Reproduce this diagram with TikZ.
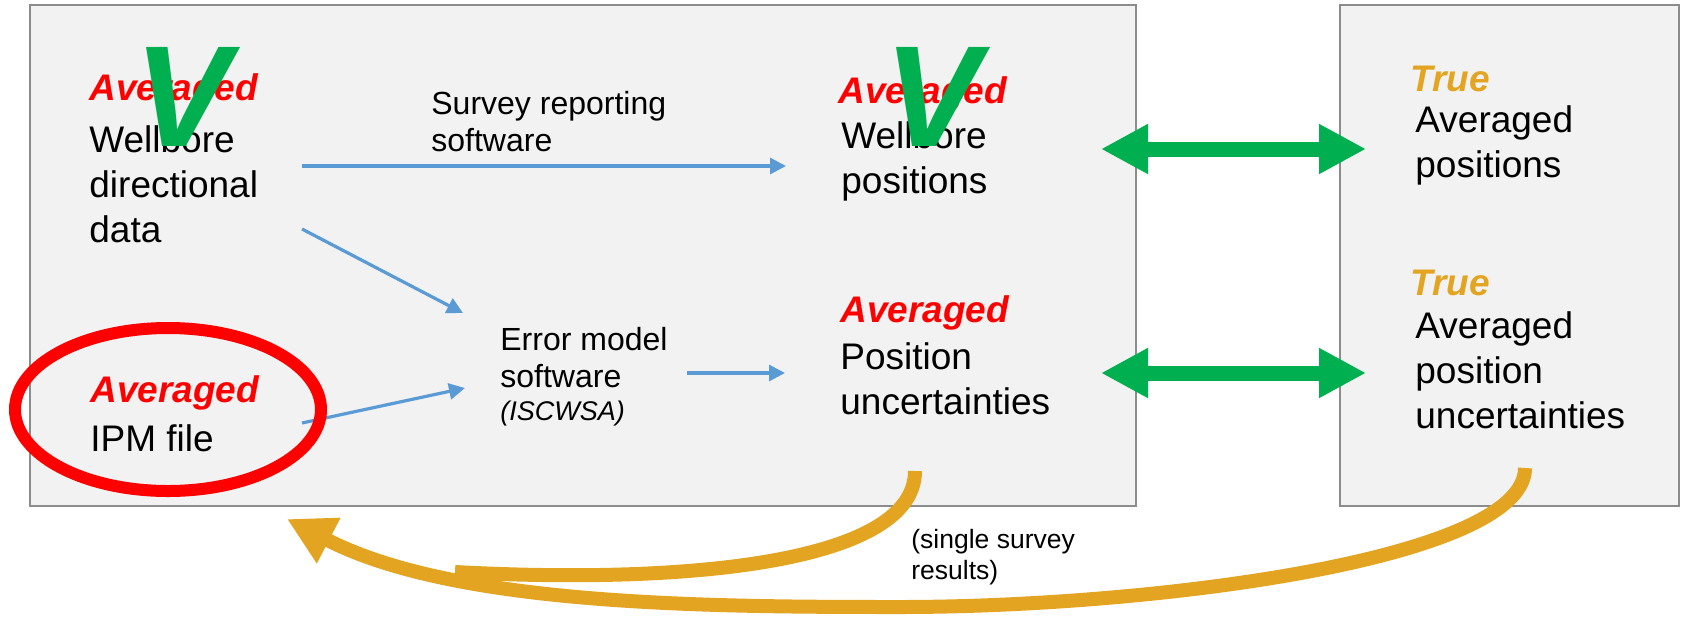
\documentclass[tikz,border=0pt]{standalone}
\usepackage{fontspec}
\setmainfont{Liberation Sans}
\usetikzlibrary{arrows.meta}
\definecolor{boxfill}{HTML}{F2F2F2}
\definecolor{boxline}{HTML}{8C8C8C}
\definecolor{flowblue}{HTML}{5B9BD5}
\definecolor{okgreen}{HTML}{00B050}
\definecolor{gold}{HTML}{E3A521}
\definecolor{alertred}{HTML}{FF0000}
% stacked lines whose baseline is the first line
\newcommand\rows[1]{\begin{tabular}[t]{@{}l@{}}#1\end{tabular}}
\begin{document}
\begin{tikzpicture}[x=0.5pt,y=-0.5pt,
  panel/.style={draw=boxline, line width=1pt, fill=boxfill},
  body/.style={anchor=base west, inner sep=0pt, font=\fontsize{18.5}{22.5}\selectfont},
  redtag/.style={body, text=alertred, font=\fontsize{18.5}{22.5}\selectfont\bfseries\itshape},
  goldtag/.style={body, text=gold, font=\fontsize{18.5}{22.5}\selectfont\bfseries\itshape},
  note/.style={anchor=base west, inner sep=0pt, font=\fontsize{16}{18.5}\selectfont},
  smallnote/.style={anchor=base west, inner sep=0pt, font=\fontsize{13.25}{15.5}\selectfont},
  flow/.style={draw=flowblue, line width=1.6pt, -{Triangle[length=8pt,width=8pt]}},
  match/.style={draw=okgreen, line width=7.5pt,
    {Triangle[length=23.5pt,width=23.5pt]}-{Triangle[length=23.5pt,width=23.5pt]}},
  feedback/.style={draw=gold, line width=7pt},
  tick/.style={anchor=base west, inner sep=0pt, text=okgreen,
    font=\fontsize{72}{80}\selectfont\bfseries\itshape},
]
\path[use as bounding box] (0,0) rectangle (1681,617);

% panels
\draw[panel] (30,5) rectangle (1136,506);
\draw[panel] (1340,5) rectangle (1679,506);

% computed quantities
\node[redtag] (wdtag) at (89,100) {Averaged};
\node[body] (wd) at (89,152) {\rows{Wellbore\\directional\\data}};
\node[redtag] (ipmtag) at (90,402) {Averaged};
\node[body] (ipm) at (90,451) {IPM file};
\node[redtag] (wptag) at (838,103) {Averaged};
\node[body] (wp) at (841,148) {\rows{Wellbore\\positions}};
\node[redtag] (putag) at (840,322) {Averaged};
\node[body] (pu) at (840,369) {\rows{Position\\uncertainties}};

% reference quantities
\node[goldtag] (tptag) at (1410,91) {True};
\node[body] (tp) at (1415,132) {\rows{Averaged\\positions}};
\node[goldtag] (tutag) at (1410,295) {True};
\node[body] (tu) at (1415,338) {\rows{Averaged\\position\\uncertainties}};

% software
\node[note] (srs) at (431,114) {\rows{Survey reporting\\software}};
\node[note] (ems) at (500,350) {\rows{Error model\\software}};
\node[anchor=base west, inner sep=0pt, font=\fontsize{13.5}{16}\selectfont\itshape] (isc) at (500,420) {(ISCWSA)};
\node[smallnote] (single) at (911,548) {\rows{(single survey\\results)}};

% blue data flow
\coordinate (wd-a) at (302,166);
\coordinate (wp-in) at (786,166);
\coordinate (wd-b) at (302,229);
\coordinate (em-in1) at (463,313);
\coordinate (ipm-out) at (302,423);
\coordinate (em-in2) at (465,388);
\coordinate (em-out) at (687,373);
\coordinate (pu-in) at (785,373);
\draw[flow] (wd-a) -- (wp-in);
\draw[flow] (wd-b) -- (em-in1);
\draw[flow] (ipm-out) -- (em-in2);
\draw[flow] (em-out) -- (pu-in);

% comparisons
\coordinate (cmp1-l) at (1101,149);
\coordinate (cmp1-r) at (1366,149);
\coordinate (cmp2-l) at (1101,373);
\coordinate (cmp2-r) at (1366,373);
\draw[match] (cmp1-l) -- (cmp1-r);
\draw[match] (cmp2-l) -- (cmp2-r);

% feedback loops
\coordinate (pu-fb) at (915,471);
\coordinate (pu-end) at (455,572);
\coordinate (tu-fb) at (1525,468);
\coordinate (low) at (900,607);
\coordinate (ipm-in) at (287,519);
\draw[feedback] (pu-fb) .. controls (915,560) and (700,585) .. (pu-end);
\draw[feedback, -{Triangle[length=23.5pt,width=24pt]}]
  (tu-fb) .. controls (1525,560) and (1150,607) .. (low)
  .. controls (700,607) and (453,605) .. (ipm-in);

% red highlight round the IPM file
\draw[alertred, line width=6pt] (168,409.5) ellipse [x radius=76.5pt, y radius=40.75pt];

% check marks
\node[tick] (ok1) at (134,146) {V};
\node[tick] (ok2) at (884,146) {V};
\end{tikzpicture}
\end{document}
